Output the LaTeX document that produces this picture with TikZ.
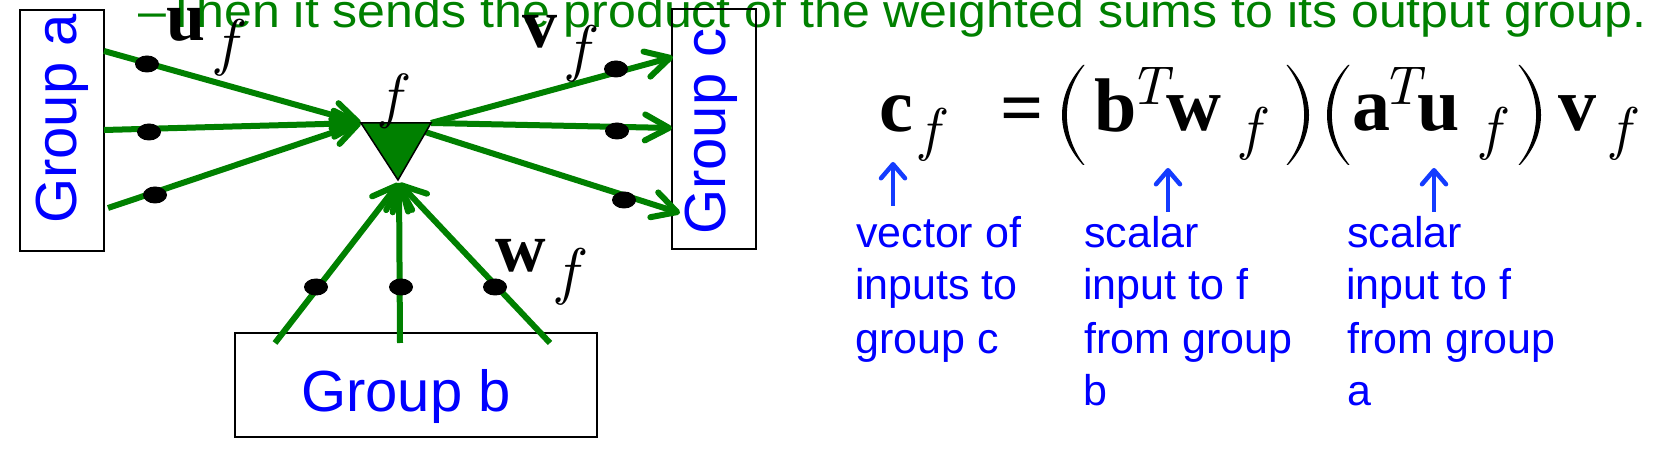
\documentclass[tikz,border=0pt]{standalone}
\usepackage{fontspec}
\newfontfamily\arialf{Liberation Sans}
\newfontfamily\timesf{Liberation Serif}
\newfontfamily\lmit{lmroman10-italic.otf}
\usetikzlibrary{arrows.meta,shapes.geometric}
\definecolor{pgreen}{RGB}{0,128,0}
\definecolor{pblue}{RGB}{0,0,255}
\definecolor{ablue}{RGB}{20,60,255}
\tikzset{
  conn/.style={draw=pgreen, line width=6pt, -{Straight Barb[length=24pt,width=26pt,round]}},
  wdot/.style={ellipse, fill=black, minimum width=24pt, minimum height=17pt, inner sep=0pt},
  grp/.style={draw=black, line width=1.5pt, inner sep=0pt},
  glabel/.style={text=pblue, font=\arialf\fontsize{58}{58}\selectfont, inner sep=0pt, anchor=base west},
  blab/.style={text=pblue, font=\arialf\fontsize{43}{43}\selectfont, inner sep=0pt, anchor=base west},
  bvec/.style={font=\timesf\bfseries\fontsize{70}{70}\selectfont, inner sep=0pt, anchor=base west},
  evec/.style={font=\timesf\bfseries\fontsize{76}{76}\selectfont, inner sep=0pt, anchor=base west},
  fsub/.style={inner sep=0pt, font=\lmit\fontsize{42pt}{42pt}\selectfont},
  upar/.style={draw=ablue, line width=4.5pt, -{Straight Barb[length=14pt,width=24pt,round]}}
}
\begin{document}
\begin{tikzpicture}[x=1pt,y=-1pt]
\useasboundingbox (0,0) rectangle (1657,454);
\clip (0,0) rectangle (1657,454);

% title text
\node[anchor=base west, inner sep=0pt, text=pgreen, font=\arialf\fontsize{47}{47}\selectfont] (title) at (138,28)
  {\scalebox{1.065}[1]{–Then it sends the product of the weighted sums to its output group.}};

% group boxes
\node[grp, minimum width=84pt, minimum height=241pt] (ga) at (62,130.5) {};
\node[grp, minimum width=84pt, minimum height=240pt] (gc) at (714,129) {};
\node[grp, minimum width=362pt, minimum height=104pt] (gb) at (416,385) {};
\node[glabel, rotate=90] (gat) at (76,224) {Group a};
\node[glabel, rotate=90] (gct) at (725,235) {Group c};
\node[glabel] (gbt) at (301,411) {Group b};

% triangle corners and line ends
\coordinate (t1) at (361,123);
\coordinate (t2) at (431,123);
\coordinate (t3) at (398,180);
\coordinate (t3b) at (399,183);
\coordinate (t2r) at (422,131);
\coordinate (a1) at (104,51);
\coordinate (a2) at (104,130);
\coordinate (a3) at (108,208);
\coordinate (b1) at (275,343);
\coordinate (b2) at (400,343);
\coordinate (b3) at (550,343);
\coordinate (c1) at (673,57);
\coordinate (c2) at (672,128);
\coordinate (c3) at (680,213);

\draw[conn] (a1) -- (t1);
\draw[conn] (a2) -- (t1);
\draw[conn] (a3) -- (t1);
\draw[conn] (b1) -- (t3b);
\draw[conn] (b2) -- (t3b);
\draw[conn] (b3) -- (t3b);
\draw[conn] (t2) -- (c1);
\draw[conn] (t2) -- (c2);
\draw[conn] (t2r) -- (c3);

\filldraw[fill=pgreen, draw=black, line width=1.5pt, line join=miter] (t1) -- (t2) -- (t3) -- cycle;

% weight dots
\node[wdot] (da1) at (147,64) {};
\node[wdot] (da2) at (149,132) {};
\node[wdot] (da3) at (155,195) {};
\node[wdot] (db1) at (316,287) {};
\node[wdot] (db2) at (401,287) {};
\node[wdot] (db3) at (495,287) {};
\node[wdot] (dc1) at (616,69) {};
\node[wdot] (dc2) at (617,131) {};
\node[wdot] (dc3) at (624,200) {};

% vector labels
\node[bvec] (u) at (166,41) {u};
\node[fsub] (uf) at (226,48) {\scalebox{1.5}{f}};
\node[bvec] (v) at (522,48) {v};
\node[fsub] (vf) at (578,54) {\scalebox{1.5}{f}};
\node[bvec] (w) at (495,272) {w};
\node[fsub] (wf) at (567,277) {\scalebox{1.5}{f}};
\node[fsub] (tf) at (391,101) {\scalebox{1.45}{f}};

% equation
\node[evec] (ec) at (879,132) {c};
\node[fsub] (ecf) at (930,135) {\scalebox{1.4}{f}};
\node[evec] (eq) at (1000,134) {=};
\fill (1083,65) .. controls (1055,95) and (1055,135) .. (1083,165) -- (1084.5,165) .. controls (1061,135) and (1061,95) .. (1084.5,65) -- cycle;
\node[evec] (eb) at (1094,132) {b};
\node[fsub] (ebT) at (1149,86) {\scalebox{1.3}{T}};
\node[evec] (ew) at (1166,131) {w};
\node[fsub] (ewf) at (1251,134) {\scalebox{1.4}{f}};
\fill (1288,65) .. controls (1316,95) and (1316,135) .. (1288,165) -- (1286.5,165) .. controls (1310,135) and (1310,95) .. (1286.5,65) -- cycle;
\fill (1348,65) .. controls (1320,95) and (1320,135) .. (1348,165) -- (1349.5,165) .. controls (1326,135) and (1326,95) .. (1349.5,65) -- cycle;
\node[evec] (ea) at (1352,131) {a};
\node[fsub] (eaT) at (1401,86) {\scalebox{1.3}{T}};
\node[evec] (eu) at (1417,131) {u};
\node[fsub] (euf) at (1491,134) {\scalebox{1.4}{f}};
\fill (1520,65) .. controls (1548,95) and (1548,135) .. (1520,165) -- (1518.5,165) .. controls (1542,135) and (1542,95) .. (1518.5,65) -- cycle;
\node[evec] (ev) at (1558,131) {v};
\node[fsub] (evf) at (1621,134) {\scalebox{1.4}{f}};

% blue arrows
\coordinate (p1s) at (893,206);
\coordinate (p1e) at (893,162);
\coordinate (p2s) at (1168,212);
\coordinate (p2e) at (1168,168);
\coordinate (p3s) at (1434,212);
\coordinate (p3e) at (1434,168);
\draw[upar] (p1s) -- (p1e);
\draw[upar] (p2s) -- (p2e);
\draw[upar] (p3s) -- (p3e);

% blue explanations
\node[blab] (l11) at (856,248) {vector of};
\node[blab] (l12) at (855,300) {inputs to};
\node[blab] (l13) at (855,353) {group c};
\node[blab] (l21) at (1084,248) {scalar};
\node[blab] (l22) at (1083,300) {input to f};
\node[blab] (l23) at (1084,353) {from group};
\node[blab] (l24) at (1083,405) {b};
\node[blab] (l31) at (1347,248) {scalar};
\node[blab] (l32) at (1346,300) {input to f};
\node[blab] (l33) at (1347,353) {from group};
\node[blab] (l34) at (1347,405) {a};
\end{tikzpicture}
\end{document}
